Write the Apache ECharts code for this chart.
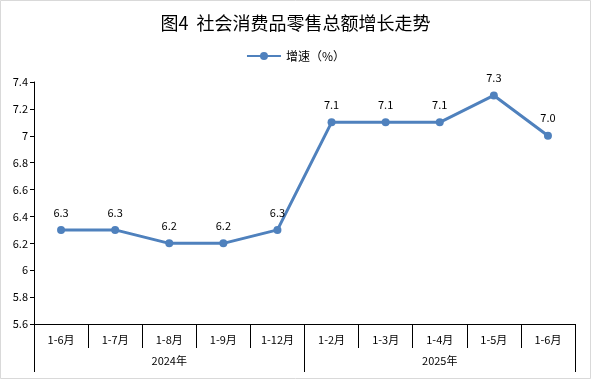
<!DOCTYPE html>
<html><head><meta charset="utf-8">
<script src="https://cdn.jsdelivr.net/npm/echarts@6/dist/echarts.min.js"></script>
<style>html,body{margin:0;padding:0;background:#fff}#c{width:591px;height:379px}</style>
</head><body><div id="c"></div>
<script>
const titleText = '图4  社会消费品零售总额增长走势';
const seriesName = '增速（%）';
const categories = ['1-6月','1-7月','1-8月','1-9月','1-12月','1-2月','1-3月','1-4月','1-5月','1-6月'];
const years = ['2024年','2025年'];
const growth = [6.3, 6.3, 6.2, 6.2, 6.3, 7.1, 7.1, 7.1, 7.3, 7.0];

const font = '"Noto Sans CJK SC", "Noto Sans", sans-serif';
const chart = echarts.init(document.getElementById('c'), null, {renderer:'canvas'});
chart.setOption({
  animation: false,
  backgroundColor: '#fff',
  graphic: [{type:'rect', shape:{x:0.5,y:0.5,width:590,height:378}, style:{fill:'none', stroke:'#d9d9d9', lineWidth:1}, silent:true}],
  title: {text: titleText, left: 'center', top: 9, textStyle:{fontFamily: font, fontSize: 18, fontWeight: 'normal', color:'#000'}},
  legend: {top: 45, left: 'center', itemWidth: 34, itemHeight: 10, textStyle:{fontFamily: font, fontSize: 12, color:'#000'}, data:[seriesName]},
  grid: {left: 34, right: 16, top: 82, bottom: 55, containLabel: false},
  xAxis: [
    {type:'category', data: categories, boundaryGap: true,
     axisLine:{show:true, lineStyle:{color:'#000', width:1}},
     axisTick:{show:true, length: 24, interval: 0, lineStyle:{color:'#000', width:1}},
     axisLabel:{margin: 10, fontFamily: font, fontSize: 11, color:'#000', interval: 0}},
    {type:'category', data: years, position:'bottom', boundaryGap: true,
     axisLine:{show:false},
     axisTick:{show:true, length: 48, interval: 0, lineStyle:{color:'#000', width:1}},
     axisLabel:{margin: 31, fontFamily: font, fontSize: 11, color:'#000', interval: 0}}
  ],
  yAxis: {type:'value', min: 5.6, max: 7.4, interval: 0.2,
    axisLine:{show:true, lineStyle:{color:'#000'}},
    axisTick:{show:true, length: 4, lineStyle:{color:'#000'}},
    splitLine:{show:false},
    axisLabel:{margin: 6, fontFamily: font, fontSize: 11, color:'#000'}},
  series: [{
    name: seriesName, type:'line', xAxisIndex: 0, data: growth,
    symbol:'circle', symbolSize: 8,
    lineStyle:{color:'#4F81BD', width: 3},
    itemStyle:{color:'#4F81BD'},
    label:{show:true, position:'top', distance: 8, fontFamily: font, fontSize: 11, color:'#000',
      formatter: p => p.value.toFixed(1)}
  }]
});
</script></body></html>
